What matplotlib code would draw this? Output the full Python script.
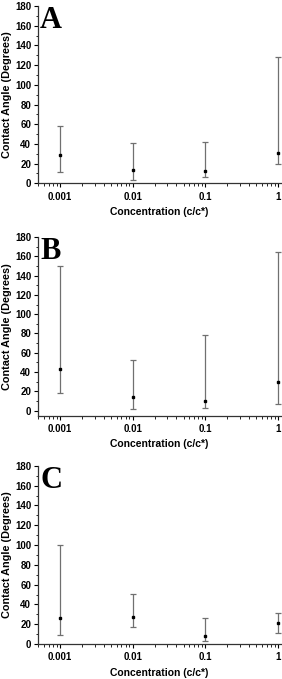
import numpy as np
import matplotlib
matplotlib.use('Agg')
import matplotlib.pyplot as plt
from matplotlib.ticker import MultipleLocator, FixedLocator, FixedFormatter, LogLocator, NullFormatter

# concentration (c/c*)
conc = [0.001, 0.01, 0.1, 1]
tick_labels = ['0.001', '0.01', '0.1', '1']

# contact angle: mean, lower end, upper end of error bar
a_mean = [29, 14, 13, 31]
a_low = [11, 3, 6, 20]
a_high = [58, 41, 42, 128]

b_mean = [43, 14, 10, 30]
b_low = [18, 2, 3, 7]
b_high = [150, 53, 78, 164]

c_mean = [26, 27, 8, 21]
c_low = [9, 17, 3, 11]
c_high = [100, 51, 26, 31]

panels = [
    ('A', a_mean, a_low, a_high, [0.135, 0.730, 0.860, 0.261], (0, 180)),
    ('B', b_mean, b_low, b_high, [0.135, 0.388, 0.860, 0.263], (-5, 180)),
    ('C', c_mean, c_low, c_high, [0.135, 0.0515, 0.860, 0.2625], (0, 180)),
]

plt.rcParams['font.family'] = 'Liberation Sans'
plt.rcParams['font.weight'] = 'bold'

fig = plt.figure(figsize=(2.82, 6.79), dpi=100)

for letter, mean, low, high, rect, ylim in panels:
    ax = fig.add_axes(rect)
    mean = np.array(mean)
    yerr = [mean - np.array(low), np.array(high) - mean]
    ax.errorbar(conc, mean, yerr=yerr, fmt='none', ecolor='#707070',
                elinewidth=0.9, capsize=2.2, capthick=0.9)
    ax.plot(conc, mean, 's', color='black', markersize=1.8)
    ax.set_xscale('log')
    ax.set_xlim(0.0005, 1.08)
    ax.set_ylim(*ylim)
    ax.xaxis.set_major_locator(FixedLocator(conc))
    ax.xaxis.set_major_formatter(FixedFormatter(tick_labels))
    ax.xaxis.set_minor_locator(LogLocator(base=10, subs=np.arange(2, 10)))
    ax.xaxis.set_minor_formatter(NullFormatter())
    ax.yaxis.set_major_locator(MultipleLocator(20))
    ax.yaxis.set_minor_locator(MultipleLocator(10))
    for s in ['top', 'right']:
        ax.spines[s].set_visible(False)
    for s in ['left', 'bottom']:
        ax.spines[s].set_linewidth(0.9)
        ax.spines[s].set_color('#333333')
    ax.tick_params(axis='both', which='major', labelsize=7, length=3, width=0.8,
                   direction='out', pad=2)
    ax.tick_params(axis='both', which='minor', length=1.8, width=0.6, direction='out')
    ax.tick_params(axis='x', which='major', pad=3)
    ax.set_xlabel('Concentration (c/c*)', fontsize=7.5, fontweight='bold', labelpad=4)
    ax.set_ylabel('Contact Angle (Degrees)', fontsize=7.8, fontweight='bold', labelpad=2)
    ax.text(0.008, 1.0, letter, transform=ax.transAxes, fontsize=22,
            fontweight='bold', family='Liberation Serif', va='top', ha='left')

fig.savefig('out.png', dpi=100)
